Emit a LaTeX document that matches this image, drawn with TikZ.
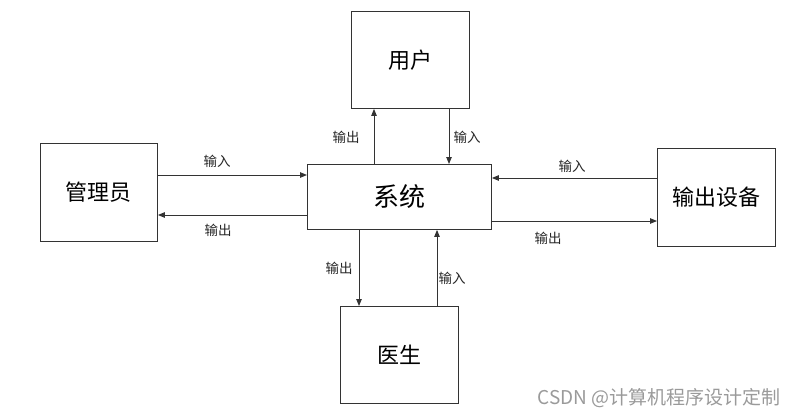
\documentclass[tikz,border=0pt]{standalone}
\usepackage{fontspec}
\setmainfont{Noto Sans CJK SC}
\usetikzlibrary{arrows.meta}
\definecolor{linec}{HTML}{333333}
\definecolor{wm}{HTML}{9A9A9A}
\begin{document}
\begin{tikzpicture}[x=1pt,y=-1pt,
  box/.style={draw=linec,line width=0.9pt,inner sep=0pt,anchor=north west,font=\fontsize{22}{24}\selectfont},
  flow/.style={draw=linec,line width=0.9pt,-{Triangle[length=7pt,width=5.5pt]}},
  lab/.style={font=\fontsize{13.5}{15}\selectfont,text=black!85}]
\useasboundingbox (0,0) rectangle (797,417);
\node[box,minimum width=118pt,minimum height=97pt] (user) at (351,11) {用户};
\node[box,minimum width=184pt,minimum height=65pt,font=\fontsize{26}{28}\selectfont] (sys) at (307,164) {系统};
\node[box,minimum width=117pt,minimum height=98pt] (admin) at (40,143) {管理员};
\node[box,minimum width=118pt,minimum height=98pt] (dev) at (657,148) {输出设备};
\node[box,minimum width=118pt,minimum height=97pt] (doc) at (340,306) {医生};
% user
\draw[flow] (sys.north -| 374,0) -- (user.south -| 374,0);
\draw[flow] (user.south -| 449,0) -- (sys.north -| 449,0);
\node[lab] (l1) at (346,137) {输出};
\node[lab] (l2) at (467,137) {输入};
% admin
\draw[flow] (admin.east |- 0,175) -- (sys.west |- 0,175);
\draw[flow] (sys.west |- 0,215) -- (admin.east |- 0,215);
\node[lab] (l3) at (217,161) {输入};
\node[lab] (l4) at (218,230) {输出};
% device
\draw[flow] (dev.west |- 0,178) -- (sys.east |- 0,178);
\draw[flow] (sys.east |- 0,221) -- (dev.west |- 0,221);
\node[lab] (l5) at (572,166) {输入};
\node[lab] (l6) at (548,238) {输出};
% doctor
\draw[flow] (sys.south -| 359,0) -- (doc.north -| 359,0);
\draw[flow] (doc.north -| 437,0) -- (sys.south -| 437,0);
\node[lab] (l7) at (339,268) {输出};
\node[lab] (l8) at (452,278) {输入};
% watermark
\node[font=\fontsize{19}{21}\selectfont,text=wm,anchor=east] (wmk) at (784,398) {CSDN @计算机程序设计定制};
\end{tikzpicture}
\end{document}
